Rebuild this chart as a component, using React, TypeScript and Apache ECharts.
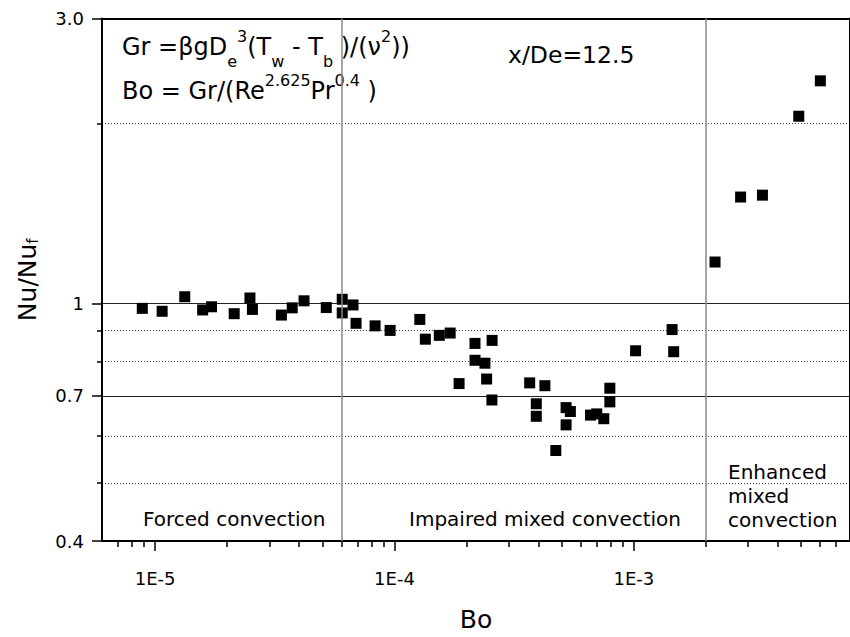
import React, { useEffect, useRef } from 'react';
import * as echarts from 'echarts';

// ---- data ----
const boValues = [
  8.84e-6, 1.07e-5, 1.33e-5, 1.58e-5, 1.72e-5, 2.14e-5, 2.49e-5, 2.55e-5, 3.37e-5, 3.74e-5,
  4.19e-5, 5.19e-5, 6.05e-5, 6.05e-5, 6.71e-5, 6.91e-5, 8.3e-5, 9.59e-5, 1.276e-4, 1.346e-4,
  1.539e-4, 1.709e-4, 1.862e-4, 2.17e-4, 2.17e-4, 2.388e-4, 2.427e-4, 2.558e-4, 2.553e-4, 3.672e-4,
  4.25e-4, 3.913e-4, 3.913e-4, 4.722e-4, 5.212e-4, 5.43e-4, 5.212e-4, 6.59e-4, 7.0e-4, 7.49e-4,
  7.94e-4, 7.94e-4, 1.017e-3, 1.445e-3, 1.467e-3, 2.184e-3, 2.793e-3, 3.446e-3, 4.887e-3, 6.015e-3,
];
const nuValues = [
  0.981, 0.970, 1.026, 0.975, 0.987, 0.961, 1.021, 0.977, 0.956, 0.983,
  1.010, 0.984, 1.016, 0.964, 0.994, 0.926, 0.917, 0.901, 0.940, 0.871,
  0.884, 0.892, 0.734, 0.857, 0.803, 0.794, 0.747, 0.867, 0.689, 0.736,
  0.728, 0.679, 0.647, 0.567, 0.669, 0.659, 0.626, 0.650, 0.653, 0.641,
  0.721, 0.684, 0.833, 0.904, 0.830, 1.173, 1.507, 1.518, 2.058, 2.359,
];

const xRange = [6e-6, 8e-3];
const yRange = [0.4, 3.0];
const xMajorTicks = [1e-5, 1e-4, 1e-3];
const xTickLabels = ['1E-5', '1E-4', '1E-3'];
const xMinorTicks = [
  7e-6, 8e-6, 9e-6, 2e-5, 3e-5, 4e-5, 5e-5, 6e-5, 7e-5, 8e-5, 9e-5,
  2e-4, 3e-4, 4e-4, 5e-4, 6e-4, 7e-4, 8e-4, 9e-4, 2e-3, 3e-3, 4e-3, 5e-3, 6e-3, 7e-3,
];
const yMajorTicks = [0.4, 0.7, 1, 3.0];
const yTickLabels = ['0.4', '0.7', '1', '3.0'];
const yMinorTicks = [0.5, 0.6, 0.8, 0.9, 2];
const regionBounds = [6e-5, 2e-3];

const FONT = 'DejaVu Sans';
const lg = (v: number) => Math.log10(v);

const fmt = (ticks: number[], labels: string[]) => (v: number) => {
  const i = ticks.findIndex((t) => Math.abs(lg(t) - v) < 1e-6);
  return i >= 0 ? labels[i] : '';
};

const tickLine = { color: '#000', width: 1.5 };

function buildOption(): any {
  const xMin = lg(xRange[0]);
  const xMax = lg(xRange[1]);
  const yMin = lg(yRange[0]);
  const yMax = lg(yRange[1]);
  const main = { fontFamily: FONT, fontSize: 24, lineHeight: 24, padding: [7, 0, 0, 0], verticalAlign: 'top', fill: '#000' };
  const sub = { fontFamily: FONT, fontSize: 16, lineHeight: 16, padding: [25, 0, 0, 0], verticalAlign: 'top', fill: '#000' };
  const sup = { fontFamily: FONT, fontSize: 16, lineHeight: 16, padding: [0, 0, 0, 0], verticalAlign: 'top', fill: '#000' };
  return {
    animation: false,
    backgroundColor: '#fff',
    textStyle: { fontFamily: FONT },
    grid: { left: 102, top: 18.5, width: 753, height: 526 },
    xAxis: [
      {
        type: 'value', position: 'bottom', min: xMin, max: xMax,
        axisLine: { show: true, onZero: false, lineStyle: { color: '#000', width: 2 } },
        axisTick: { show: true, customValues: xMajorTicks.map(lg), length: 10, lineStyle: tickLine },
        axisLabel: {
          customValues: xMajorTicks.map(lg), formatter: fmt(xMajorTicks, xTickLabels),
          margin: 28, color: '#000', fontFamily: FONT, fontSize: 18,
        },
        splitLine: { show: false },
        name: 'Bo', nameLocation: 'middle', nameGap: 66,
        nameTextStyle: { fontFamily: FONT, fontSize: 25, color: '#000' },
      },
      {
        type: 'value', position: 'bottom', min: xMin, max: xMax,
        axisLine: { show: false, onZero: false },
        axisTick: { show: true, customValues: xMinorTicks.map(lg), length: 6, lineStyle: tickLine },
        axisLabel: { show: false },
        splitLine: { show: false },
      },
      {
        type: 'value', position: 'top', min: xMin, max: xMax,
        axisLine: { show: true, onZero: false, lineStyle: { color: '#000', width: 2 } },
        axisTick: { show: false }, axisLabel: { show: false }, splitLine: { show: false },
      },
    ],
    yAxis: [
      {
        type: 'value', position: 'left', min: yMin, max: yMax,
        axisLine: { show: true, onZero: false, lineStyle: { color: '#000', width: 2 } },
        axisTick: { show: true, customValues: yMajorTicks.map(lg), length: 10, lineStyle: tickLine },
        axisLabel: {
          customValues: yMajorTicks.map(lg), formatter: fmt(yMajorTicks, yTickLabels),
          margin: 18, color: '#000', fontFamily: FONT, fontSize: 18,
        },
        splitLine: { show: true, lineStyle: { color: '#222', width: 1 } },
        name: '{a|Nu/Nu}{b|f}', nameLocation: 'middle', nameGap: 62,
        nameTextStyle: {
          fontFamily: FONT, fontSize: 25, color: '#000',
          rich: {
            a: { fontFamily: FONT, fontSize: 25, color: '#000' },
            b: { fontFamily: FONT, fontSize: 15, color: '#000', verticalAlign: 'bottom' },
          },
        },
      },
      {
        type: 'value', position: 'left', min: yMin, max: yMax,
        axisLine: { show: false, onZero: false },
        axisTick: { show: true, customValues: yMinorTicks.map(lg), length: 5, lineStyle: tickLine },
        axisLabel: { show: false },
        splitLine: { show: true, lineStyle: { color: '#444', width: 1, type: [1, 2] } },
      },
      {
        type: 'value', position: 'right', min: yMin, max: yMax,
        axisLine: { show: true, onZero: false, lineStyle: { color: '#000', width: 2 } },
        axisTick: { show: false }, axisLabel: { show: false }, splitLine: { show: false },
      },
    ],
    series: [
      {
        type: 'scatter',
        xAxisIndex: 0,
        yAxisIndex: 0,
        symbol: 'rect',
        symbolSize: 11,
        itemStyle: { color: '#000', opacity: 1 },
        data: boValues.map((b, i) => [lg(b), lg(nuValues[i])]),
        markLine: {
          silent: true,
          symbol: ['none', 'none'],
          label: { show: false },
          lineStyle: { color: '#8a8a8a', width: 1.5, type: 'solid', opacity: 1 },
          data: regionBounds.map((b) => ({ xAxis: lg(b) })),
        },
        z: 3,
      },
    ],
    graphic: [
      {
        type: 'text', x: 122, y: 28,
        style: {
          text: '{m|Gr =βgD}{sb|e}{sp|3}{m|(T}{sb|w}{m| - T}{sb|b}{m| )/(ν}{sp|2}{m|))}',
          rich: { m: main, sb: sub, sp: sup },
          verticalAlign: 'top',
        },
      },
      {
        type: 'text', x: 122, y: 72,
        style: {
          text: '{m|Bo = Gr/(Re}{sp|2.625}{m|Pr}{sp|0.4}{m| )}',
          rich: { m: main, sb: sub, sp: sup },
          verticalAlign: 'top',
        },
      },
      {
        type: 'text', x: 508, y: 55,
        style: { text: 'x/De=12.5', fontFamily: FONT, fontSize: 23.5, fill: '#000', verticalAlign: 'middle' },
      },
      {
        type: 'text', x: 143, y: 519,
        style: { text: 'Forced convection', fontFamily: FONT, fontSize: 20, fill: '#000', verticalAlign: 'middle' },
      },
      {
        type: 'text', x: 409, y: 519,
        style: { text: 'Impaired mixed convection', fontFamily: FONT, fontSize: 20, fill: '#000', verticalAlign: 'middle' },
      },
      {
        type: 'text', x: 728, y: 460,
        style: {
          text: 'Enhanced\nmixed\nconvection', fontFamily: FONT, fontSize: 20, lineHeight: 24,
          fill: '#000', verticalAlign: 'top',
        },
      },
    ],
  };
}

export default function App() {
  const ref = useRef<HTMLDivElement>(null);
  useEffect(() => {
    const chart = echarts.init(ref.current as HTMLDivElement, null, { renderer: 'svg' });
    chart.setOption(buildOption());
    return () => chart.dispose();
  }, []);
  return (
    <div
      ref={ref}
      style={{ position: 'absolute', left: 0, top: 0, width: 850, height: 637, background: '#fff' }}
    />
  );
}
